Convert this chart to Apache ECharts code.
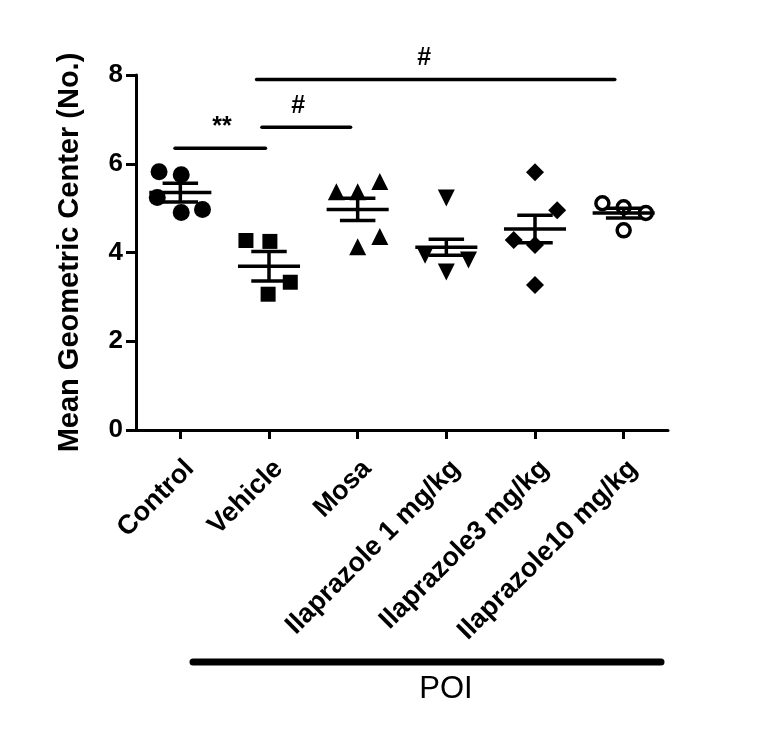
<!DOCTYPE html>
<html><head><meta charset="utf-8">
<script src="https://cdn.jsdelivr.net/npm/echarts@6/dist/echarts.min.js"></script>
<style>html,body{margin:0;padding:0;background:#fff}#c{width:763px;height:741px}</style>
</head><body><div id="c"></div>
<script>
const categories = ['Control', 'Vehicle', 'Mosa', 'Ilaprazole 1 mg/kg', 'Ilaprazole3 mg/kg', 'Ilaprazole10 mg/kg'];
const yTicks = [0, 2, 4, 6, 8];

const controlVals = [5.82, 5.75, 5.24, 4.90, 4.97];
const controlJitter = [-0.24, 0.01, -0.26, 0.01, 0.25];
const vehicleVals = [4.27, 4.25, 3.33, 3.06];
const vehicleJitter = [-0.26, 0.01, 0.24, -0.01];
const mosaVals = [5.60, 5.37, 5.37, 4.36, 4.13];
const mosaJitter = [0.25, -0.24, 0.0, 0.25, 0.0];
const ila1Vals = [5.23, 3.94, 3.83, 3.56];
const ila1Jitter = [0.0, -0.24, 0.25, 0.0];
const ila3Vals = [5.81, 4.95, 4.28, 4.17, 3.27];
const ila3Jitter = [0.0, 0.25, -0.24, 0.0, 0.0];
const ila10Vals = [5.11, 5.02, 4.89, 4.50];
const ila10Jitter = [-0.24, 0.0, 0.25, 0.0];

const groupMeans = [5.35, 3.69, 4.97, 4.12, 4.53, 4.89];
const groupSems = [0.21, 0.33, 0.25, 0.18, 0.31, 0.11];

const sigFrom = [0.44, 1.42, 1.36];
const sigTo = [1.46, 2.42, 5.40];
const sigLevel = [6.35, 6.82, 7.90];
const sigTextAt = [0.97, 1.83, 3.25];
const sigLabels = ['**', '#', '#'];

const yName = 'Mean Geometric Center (No.)';
const groupLabel = 'POI';

const FONT = '"Liberation Sans", Arial, Helvetica, sans-serif';

const groups = [
  {vals: controlVals, jit: controlJitter, symbol: 'circle', size: 17, rot: 0, fill: '#000'},
  {vals: vehicleVals, jit: vehicleJitter, symbol: 'rect', size: 15, rot: 0, fill: '#000'},
  {vals: mosaVals, jit: mosaJitter, symbol: 'triangle', size: 17, rot: 0, fill: '#000'},
  {vals: ila1Vals, jit: ila1Jitter, symbol: 'triangle', size: 17, rot: 180, fill: '#000'},
  {vals: ila3Vals, jit: ila3Jitter, symbol: 'diamond', size: 18, rot: 0, fill: '#000'},
  {vals: ila10Vals, jit: ila10Jitter, symbol: 'circle', size: 13, rot: 0, fill: '#fff'}
];

const series = groups.map((g, gi) => ({
  type: 'scatter',
  xAxisIndex: 1,
  symbol: g.symbol,
  symbolSize: g.size,
  symbolRotate: g.rot,
  itemStyle: {color: g.fill, borderColor: '#000', borderWidth: g.fill === '#fff' ? 3.5 : 0, opacity: 1},
  z: 2,
  data: g.vals.map((v, i) => [gi + 0.5 + g.jit[i], v])
}));

series.push({
  type: 'custom',
  xAxisIndex: 1,
  z: 5,
  encode: {x: 0, y: 1},
  data: groupMeans.map((m, i) => [i + 0.5, m, groupSems[i]]),
  renderItem: function (params, api) {
    const x = api.value(0), m = api.value(1), s = api.value(2);
    const unit = api.size([1, 0])[0];
    const hw = unit * 0.35, hs = unit * 0.2;
    const pm = api.coord([x, m]);
    const pu = api.coord([x, m + s]);
    const pl = api.coord([x, m - s]);
    const st = {stroke: '#000', lineWidth: 3.5};
    return {type: 'group', children: [
      {type: 'line', shape: {x1: pm[0] - hw, y1: pm[1], x2: pm[0] + hw, y2: pm[1]}, style: st},
      {type: 'line', shape: {x1: pu[0] - hs, y1: pu[1], x2: pu[0] + hs, y2: pu[1]}, style: st},
      {type: 'line', shape: {x1: pl[0] - hs, y1: pl[1], x2: pl[0] + hs, y2: pl[1]}, style: st},
      {type: 'line', shape: {x1: pu[0], y1: pu[1], x2: pl[0], y2: pl[1]}, style: st}
    ]};
  }
});

series.push({
  type: 'custom',
  xAxisIndex: 1,
  z: 5,
  encode: {x: [0, 1], y: 2},
  data: sigFrom.map((f, i) => [f, sigTo[i], sigLevel[i], sigTextAt[i], i]),
  renderItem: function (params, api) {
    const p1 = api.coord([api.value(0), api.value(2)]);
    const p2 = api.coord([api.value(1), api.value(2)]);
    const pt = api.coord([api.value(3), api.value(2)]);
    const label = sigLabels[api.value(4)];
    return {type: 'group', children: [
      {type: 'line', shape: {x1: p1[0], y1: p1[1], x2: p2[0], y2: p2[1]}, style: {stroke: '#000', lineWidth: 3.5, lineCap: 'round'}},
      {type: 'text', style: {text: label, x: pt[0], y: pt[1] - 9,
        align: 'center', verticalAlign: 'bottom', textAlign: 'center', textVerticalAlign: 'bottom',
        font: 'bold 25px ' + FONT, fill: '#000'}}
    ]};
  }
});

const chart = echarts.init(document.getElementById('c'), null, {renderer: 'canvas'});
chart.setOption({
  backgroundColor: '#fff',
  animation: false,
  grid: {left: 136, right: 95, top: 75, bottom: 311, containLabel: false},
  xAxis: [{
    type: 'category',
    data: categories,
    boundaryGap: true,
    axisLine: {show: true, lineStyle: {color: '#000', width: 3}},
    axisTick: {show: true, alignWithLabel: true, length: 9, lineStyle: {color: '#000', width: 3}},
    axisLabel: {interval: 0, rotate: 45, margin: 25, verticalAlign: 'top', color: '#000', fontWeight: 'bold', fontSize: 27, fontFamily: FONT},
    splitLine: {show: false}
  }, {
    type: 'value', min: 0, max: 6, show: false
  }],
  yAxis: {
    type: 'value', min: yTicks[0], max: yTicks[yTicks.length - 1], interval: 2,
    axisLine: {show: true, lineStyle: {color: '#000', width: 3}},
    axisTick: {show: true, length: 10, lineStyle: {color: '#000', width: 3}},
    axisLabel: {margin: 13, color: '#000', fontWeight: 'bold', fontSize: 26, fontFamily: FONT},
    splitLine: {show: false},
    name: yName, nameLocation: 'middle', nameGap: 52,
    nameTextStyle: {color: '#000', fontWeight: 'bold', fontSize: 29, fontFamily: FONT}
  },
  graphic: [
    {type: 'line', shape: {x1: 193, y1: 662, x2: 661, y2: 662}, style: {stroke: '#000', lineWidth: 7, lineCap: 'round'}},
    {type: 'text', x: 446, y: 689, style: {text: groupLabel, x: 0, y: 0, align: 'center', verticalAlign: 'middle', font: '31px ' + FONT, fill: '#000'}}
  ],
  series: series
});
</script>
</body></html>
